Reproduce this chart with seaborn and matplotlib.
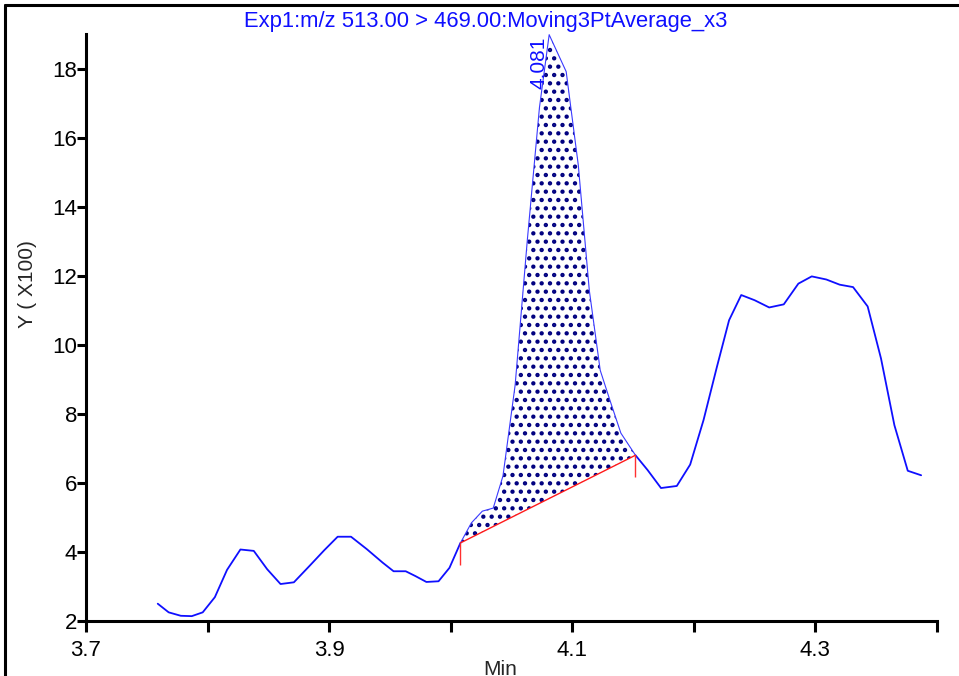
import matplotlib
matplotlib.use("Agg")
import matplotlib.pyplot as plt
from matplotlib.lines import Line2D
import numpy as np
import pandas as pd
import seaborn as sns

# chromatogram trace, intensity in units of 100
time_min = [3.759, 3.768, 3.778, 3.787, 3.796, 3.806, 3.816, 3.827, 3.838, 3.849,
            3.860, 3.871, 3.884, 3.896, 3.907, 3.918, 3.931, 3.944, 3.953, 3.963,
            3.971, 3.980, 3.990, 3.999, 4.008, 4.017, 4.026, 4.035, 4.043, 4.053,
            4.063, 4.073, 4.081, 4.095, 4.105, 4.114, 4.123, 4.131, 4.140, 4.152,
            4.162, 4.173, 4.186, 4.197, 4.208, 4.219, 4.229, 4.239, 4.250, 4.262,
            4.274, 4.286, 4.297, 4.309, 4.320, 4.331, 4.343, 4.354, 4.365, 4.376,
            4.387]
intensity = [2.50, 2.25, 2.15, 2.14, 2.25, 2.69, 3.48, 4.07, 4.03, 3.50,
             3.07, 3.12, 3.60, 4.05, 4.44, 4.44, 4.08, 3.69, 3.44, 3.44,
             3.30, 3.13, 3.15, 3.54, 4.26, 4.84, 5.18, 5.27, 6.20, 8.83,
             13.02, 16.87, 18.98, 17.91, 15.19, 11.58, 9.26, 8.39, 7.44, 6.80,
             6.37, 5.85, 5.91, 6.53, 7.82, 9.36, 10.71, 11.44, 11.29, 11.08,
             11.17, 11.77, 11.98, 11.89, 11.74, 11.67, 11.11, 9.60, 7.67, 6.35,
             6.22]

peak_start = 4.008
peak_end = 4.152
peak_apex = 4.081
peak_label = "4.081"

title = "Exp1:m/z 513.00 > 469.00:Moving3PtAverage_x3"
x_ticks = [3.7, 3.8, 3.9, 4.0, 4.1, 4.2, 4.3, 4.4]
x_ticklabels = ["3.7", "", "3.9", "", "4.1", "", "4.3", ""]
y_ticks = [2, 4, 6, 8, 10, 12, 14, 16, 18]

df = pd.DataFrame({"t": time_min, "y": intensity})

sns.set_style("white")
plt.rcParams["font.family"] = ["Liberation Sans", "DejaVu Sans"]
plt.rcParams["hatch.linewidth"] = 1.9

fig = plt.figure(figsize=(9.59, 6.76), dpi=100)
ax = fig.add_axes([0.0897, 0.0814, 0.8873, 0.8683])

blue = "#0f0fff"
inside = (df.t >= peak_start) & (df.t <= peak_end)
left = df[df.t <= peak_start]
right = df[df.t >= peak_end]
pk = df[inside]

# baseline under the integrated peak
y0 = np.interp(peak_start, df.t, df.y)
y1 = np.interp(peak_end, df.t, df.y)
base = y0 + (pk.t - peak_start) * (y1 - y0) / (peak_end - peak_start)

ax.fill_between(pk.t, pk.y, base, facecolor="none", edgecolor="#000080",
                hatch="..", linewidth=0)

sns.lineplot(data=left, x="t", y="y", ax=ax, color=blue, lw=1.3,
             estimator=None, sort=False)
sns.lineplot(data=right, x="t", y="y", ax=ax, color=blue, lw=1.3,
             estimator=None, sort=False)
sns.lineplot(data=pk, x="t", y="y", ax=ax, color="#3a3aff", lw=0.8,
             estimator=None, sort=False)

ax.plot([peak_start, peak_end], [y0, y1], color="#ff1a1a", lw=1.0)
ax.vlines([peak_start, peak_end], [y0 - 0.64, y1 - 0.64], [y0, y1],
          color="#ff3030", lw=1.0)

apex_y = np.interp(peak_apex, df.t, df.y)
ax.annotate(peak_label, xy=(peak_apex, apex_y), xytext=(-7, -39),
            textcoords="offset points", rotation=90, ha="center", va="bottom",
            color=blue, fontsize=15)

ax.set_xlim(3.7, 4.4)
ax.set_ylim(2, 19)
ax.set_xticks(x_ticks)
ax.set_xticklabels(x_ticklabels)
ax.set_yticks(y_ticks)
ax.set_yticklabels([str(v) for v in y_ticks])

sns.despine(ax=ax)
for s in ("left", "bottom"):
    ax.spines[s].set_linewidth(2.2)
    ax.spines[s].set_color("black")
ax.tick_params(axis="x", direction="out", length=8, width=2.2, pad=6,
               labelsize=16, colors="black", bottom=True)
ax.tick_params(axis="y", direction="out", length=6.5, width=2.2, pad=0,
               labelsize=16, colors="black", left=True)

ax.set_xlabel("")
ax.set_ylabel("Y ( X100)", fontsize=15)
ax.yaxis.set_label_coords(-0.058, 0.574)

fig.text(0.506, 0.960, title, color=blue, fontsize=15.8, ha="center",
         va="baseline")
fig.text(500 / 959, 0.024, "Min", fontsize=15, ha="center", va="top")

# outer frame of the report page
fig.add_artist(Line2D([5 / 959, 1.0], [1 - 5 / 676, 1 - 5 / 676],
                      color="black", lw=2.2, transform=fig.transFigure))
fig.add_artist(Line2D([5 / 959, 5 / 959], [0, 1 - 5 / 676],
                      color="black", lw=2.2, transform=fig.transFigure))

plt.savefig("out.png", dpi=100)
